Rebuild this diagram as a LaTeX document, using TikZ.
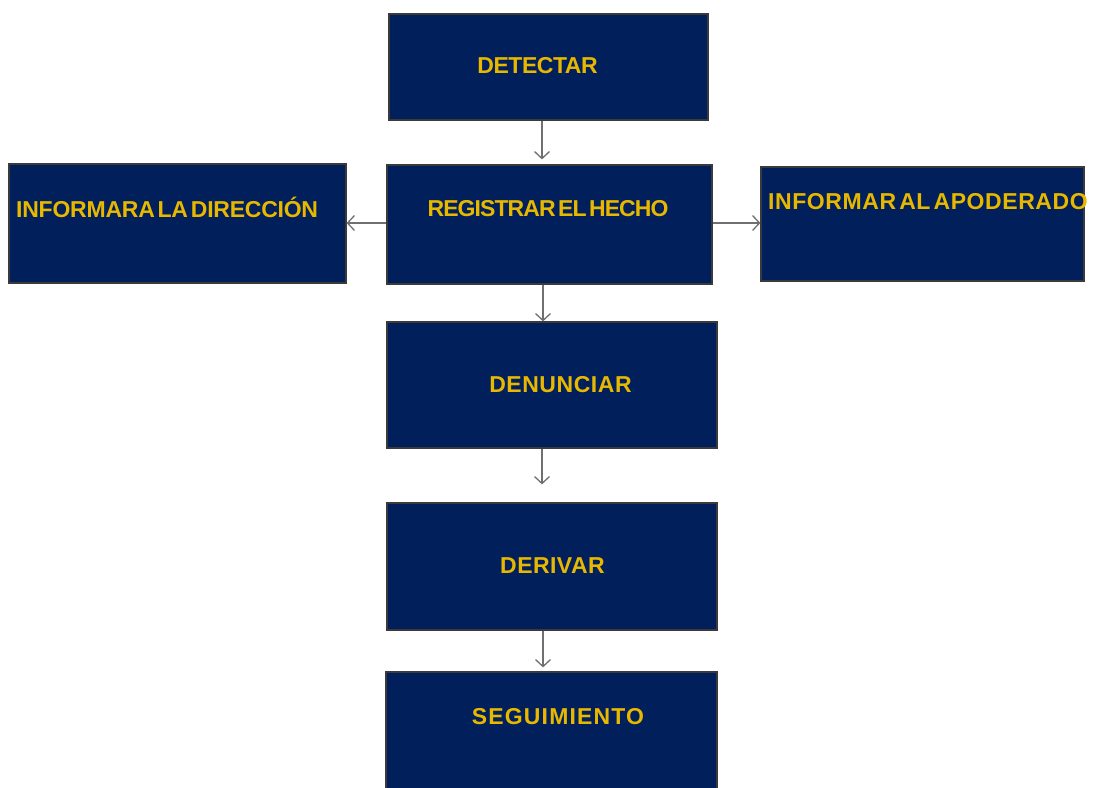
\documentclass[tikz,border=0pt]{standalone}
\usepackage{fontspec}
\setmainfont[WordSpace=0.45]{Liberation Sans}
\usetikzlibrary{arrows.meta}
\definecolor{navy}{HTML}{001F5B}
\definecolor{gold}{HTML}{E8B800}
\definecolor{edgegray}{HTML}{3A3A3A}
\definecolor{arrowgray}{HTML}{707070}
\newcommand{\lblfont}[1]{\fontsize{23}{26}\selectfont\bfseries\addfontfeatures{LetterSpace=#1}}
\begin{document}
\begin{tikzpicture}[x=1pt,y=-1pt,
  box/.style={draw=edgegray,line width=1.2pt,fill=navy,inner sep=0pt},
  lbl/.style={text=gold,inner sep=0pt,anchor=center},
  conn/.style={draw=arrowgray,line width=1.3pt,-{Straight Barb[length=7pt,width=15pt,line width=1.3pt]}}]
\useasboundingbox (0,0) rectangle (1094,787);
\node[box,minimum width=319pt,minimum height=106pt] (det) at (548.5,67) {};
\node[box,minimum width=325pt,minimum height=119pt] (reg) at (549.5,224.5) {};
\node[box,minimum width=337pt,minimum height=119pt] (dir) at (177.5,223.5) {};
\node[box,minimum width=323pt,minimum height=114pt] (apo) at (922.5,224) {};
\node[box,minimum width=330pt,minimum height=126pt] (den) at (552,385) {};
\node[box,minimum width=330pt,minimum height=127pt] (der) at (552,566.5) {};
\node[box,minimum width=331pt,minimum height=130pt] (seg) at (551.5,737) {};
\node[lbl,font=\lblfont{-2}] (tdet) at (537.5,66) {DETECTAR};
\node[lbl,font=\lblfont{-4}] (treg) at (548,209) {REGISTRAR EL HECHO};
\node[lbl,font=\lblfont{-1},anchor=west] (tdir) at (16,207) {INFORMARA LA DIRECCIÓN};
\node[lbl,font=\lblfont{2.5},anchor=west] (tapo) at (768,202) {INFORMAR AL APODERADO};
\node[lbl,font=\lblfont{2.4}] (tden) at (560.5,385) {DENUNCIAR};
\node[lbl,font=\lblfont{2}] (tder) at (552.5,566) {DERIVAR};
\node[lbl,font=\lblfont{5}] (tseg) at (558,717) {SEGUIMIENTO};
\coordinate (a1) at (542,0);
\coordinate (a2) at (543,0);
\coordinate (hy) at (0,223);
\draw[conn,shorten >=5pt] (det.south -| a1) -- (reg.north -| a1);
\draw[conn] (reg.west |- hy) -- (dir.east |- hy);
\draw[conn] (reg.east |- hy) -- (apo.west |- hy);
\draw[conn] (reg.south -| a2) -- (den.north -| a2);
\draw[conn,shorten >=18pt] (den.south -| a1) -- (der.north -| a1);
\draw[conn,shorten >=4pt] (der.south -| a2) -- (seg.north -| a2);
\end{tikzpicture}
\end{document}
